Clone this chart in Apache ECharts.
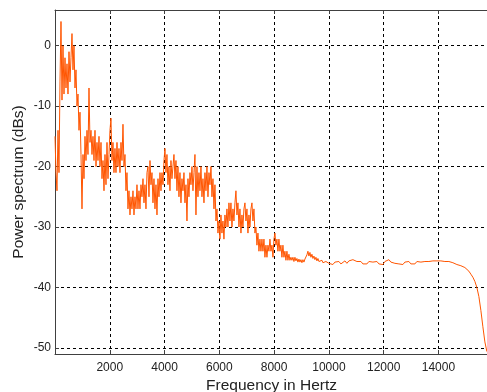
<!DOCTYPE html>
<html>
<head>
<meta charset="utf-8">
<script src="https://cdn.jsdelivr.net/npm/echarts@6/dist/echarts.min.js"></script>
<style>
  html, body { margin: 0; padding: 0; background: #ffffff; }
  #chart { width: 487px; height: 392px; }
</style>
</head>
<body>
<div id="chart"></div>
<script>
// Frequency grid (Hz): fine band starting at 0 with 36.5 Hz step, coarse band from 9928 Hz with 73 Hz step
const lowStart = 0;
const lowStep = 36.5;
const highStart = 9928;
const highStep = 73;

// Power spectrum values (dB), low band (0 .. ~9900 Hz)
const lowBandDb = [
  -15, -21, -24, -14, -21, -6, 4, -9, 0, -8,
  -2, -7, -3, -8, -1, -6, -2, 2, -4, 0,
  -7, -4, -10, -8, -14, -11, -18, -27, -18, -22,
  -15, -19, -14, -18, -7, -16, -14, -18, -15, -19,
  -14, -20, -16, -19, -15, -20, -16, -22, -19, -24,
  -18, -23, -16, -22, -18, -14, -12, -19, -16, -21,
  -17, -21, -16, -20, -17, -21, -16, -19, -13, -20,
  -18, -24, -21, -27, -24, -28, -25, -27, -24, -28,
  -25, -27, -23, -27, -24, -27, -23, -25, -22, -26,
  -23, -27, -21, -20, -25, -19, -23, -21, -26, -22,
  -27, -23, -28, -22, -25, -21, -24, -21, -23, -19,
  -17, -21, -18, -23, -20, -24, -19, -22, -20, -18,
  -22, -19, -24, -20, -25, -21, -26, -22, -24, -21,
  -26, -23, -29, -22, -25, -21, -23, -20, -24, -21,
  -18, -28, -20, -25, -21, -24, -20, -25, -22, -26,
  -21, -24, -20, -25, -21, -23, -20, -25, -22, -27,
  -23, -29, -27, -31, -29, -32, -28, -31, -29, -32,
  -28, -30, -27, -30, -26, -29, -26, -30, -27, -29,
  -26, -24, -28, -26, -30, -27, -31, -28, -30, -27,
  -26, -29, -27, -31, -28, -30, -27, -26, -29, -27,
  -31, -30, -33, -31, -34, -32, -34, -32, -34, -32,
  -35, -33, -35, -33, -34, -32, -34, -33, -35, -32,
  -31, -33, -32, -34, -32, -34, -33, -35, -33, -35,
  -34, -35.5, -34, -35.5, -34.5, -35.5, -35, -35.5, -35, -35.7,
  -35, -35.6, -35.2, -35.8, -35.3, -35.8, -35.4, -35.9, -35.4, -35.8,
  -35.3, -35.5, -34.6, -34, -34.8, -34.2, -35, -34.5, -35.2, -34.8,
  -35.4, -35, -35.6, -35.2, -35.7, -35.4, -35.8, -35.5, -35.9, -35.6,
  -35.9, -35.7
];

// Power spectrum values (dB), high band (~9900 Hz .. end)
const highBandDb = [
  -35.6, -36.0, -35.7, -36.2, -35.8, -36.1, -35.7, -36.1, -35.8, -35.6,
  -36.0, -35.6, -35.9, -35.4, -35.3, -35.7, -36.0, -35.7, -36.1, -35.8,
  -36.1, -35.7, -36.0, -35.8, -36.1, -35.7, -36.1, -35.8, -36.2, -35.7,
  -35.6, -35.4, -35.8, -35.6, -36.0, -35.7, -36.1, -35.8, -36.2, -35.8,
  -36.1, -35.7, -36.1, -35.8, -36.1, -35.7, -36.0, -35.8, -36.1, -35.7,
  -36.0, -35.7, -35.9, -35.6, -35.9, -35.6, -35.8, -35.6, -35.9, -35.7,
  -35.9, -35.7, -36.0, -35.9, -36.1, -36.2, -36.2, -36.4, -36.5, -36.7,
  -37.0, -37.3, -37.8, -38.3, -39.0, -40.0, -41.5, -43.8, -46.5, -49.0,
  -50.6
];

// Axis settings
const xMin = 0, xMax = 15809, xInterval = 2000;
const yMin = -51, yMax = 5.9;
const xTitle = 'Frequency in Hertz';
const yTitle = 'Power spectrum (dBs)';

const points = [];
lowBandDb.forEach((v, i) => points.push([lowStart + i * lowStep, v]));
highBandDb.forEach((v, i) => points.push([highStart + i * highStep, v]));

const axisColor = '#404040';
const textColor = '#222222';
const fontFam = '"Liberation Sans", Arial, sans-serif';

const chart = echarts.init(document.getElementById('chart'), null, { renderer: 'canvas' });
chart.setOption({
  animation: false,
  backgroundColor: '#ffffff',
  grid: { left: 55, right: -1, top: 10, bottom: 38, containLabel: false, outerBoundsMode: 'none' },
  xAxis: [{
    type: 'value', min: xMin, max: xMax, interval: xInterval,
    position: 'bottom',
    name: xTitle, nameLocation: 'middle', nameGap: 24, nameMoveOverlap: false,
    nameTextStyle: { fontSize: 15.5, color: textColor, fontFamily: fontFam },
    axisLine: { show: true, onZero: false, lineStyle: { color: axisColor, width: 1 } },
    axisTick: { show: true, inside: true, length: 4, lineStyle: { color: axisColor } },
    axisLabel: { show: true, fontSize: 12, color: textColor, fontFamily: fontFam, margin: 8,
                 showMinLabel: false, showMaxLabel: false,
                 formatter: (v) => String(Math.round(v)) },
    splitLine: { show: true, lineStyle: { color: '#000000', type: [3, 3], width: 1 } }
  }, {
    type: 'value', min: xMin, max: xMax, interval: xInterval,
    position: 'top',
    axisLine: { show: true, onZero: false, lineStyle: { color: axisColor, width: 1 } },
    axisTick: { show: true, inside: true, length: 4, lineStyle: { color: axisColor } },
    axisLabel: { show: false },
    splitLine: { show: false }
  }],
  yAxis: {
    type: 'value', min: yMin, max: yMax, splitNumber: 5,
    name: yTitle, nameLocation: 'middle', nameGap: 28, nameRotate: 90, nameMoveOverlap: false,
    nameTextStyle: { fontSize: 15.5, color: textColor, fontFamily: fontFam },
    axisLine: { show: true, onZero: false, lineStyle: { color: axisColor, width: 1 } },
    axisTick: { show: true, inside: true, length: 4, lineStyle: { color: axisColor } },
    axisLabel: { show: true, fontSize: 12, color: textColor, fontFamily: fontFam, margin: 4,
                 showMinLabel: false, showMaxLabel: false },
    splitLine: { show: true, lineStyle: { color: '#000000', type: [3, 3], width: 1 } }
  },
  series: [{
    type: 'line',
    xAxisIndex: 0,
    data: points,
    showSymbol: false,
    sampling: false,
    lineStyle: { color: '#ff5500', width: 1 },
    itemStyle: { color: '#ff5500' }
  }]
});
</script>
</body>
</html>
